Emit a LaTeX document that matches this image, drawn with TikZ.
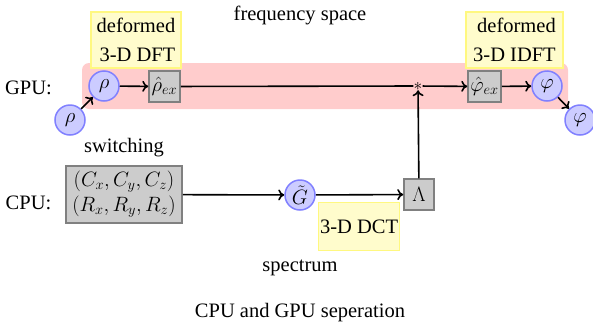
\documentclass[tikz,border=0pt]{standalone}
\usepackage{fontspec}
\setmainfont{Liberation Serif}
\usetikzlibrary{arrows.meta}
\begin{document}
\begin{tikzpicture}[x=1pt,y=-1pt,
  font=\fontsize{20.5}{29}\selectfont,
  every node/.style={inner sep=1pt},
  ball/.style={circle, fill=blue!20, draw=blue!50, line width=1.5pt, minimum size=30pt, inner sep=0pt},
  gbox/.style={rectangle, fill=gray!40, draw=gray, line width=1.5pt, inner sep=1pt},
  ybox/.style={rectangle, fill=yellow!20, draw=yellow!50, line width=1.3pt, align=right, inner sep=1pt},
  conn/.style={line width=1.6pt},
  arr/.style={conn, -{To[length=6pt,width=11pt]}},
  lbl/.style={inner sep=0pt}]
\useasboundingbox (0,0) rectangle (593,327);
% GPU band
\node[fill=red!20, rounded corners=7pt, minimum width=486pt, minimum height=46pt, inner sep=0pt] (band) at (325,86) {};
% yellow boxes
\node[ybox, minimum width=90pt, minimum height=56pt] (dft) at (136,40) {deformed\\3-D DFT};
\node[ybox, minimum width=97pt, minimum height=56pt] (idft) at (514.5,40) {deformed\\3-D IDFT};
\node[ybox, minimum width=81pt, minimum height=48pt, align=left, anchor=north west] (dct) at (318,202) {3-D DCT};
% labels
\node[lbl] (freq) at (300,15) {frequency space};
\node[lbl] (gpu) at (28.5,88) {GPU:};
\node[lbl] (cpu) at (28.5,203) {CPU:};
\node[lbl] (sw) at (124,148) {switching};
\node[lbl] (spec) at (300,268) {spectrum};
\node[lbl] (cap) at (300,313) {CPU and GPU seperation};
% GPU nodes
\node[ball] (rho0) at (70,120) {$\rho$};
\node[ball] (rho) at (104,86) {$\rho$};
\node[gbox, minimum width=31pt, minimum height=31pt] (rhoex) at (164.5,86.5) {$\hat{\rho}_{ex}$};
\node[inner sep=0pt, font=\fontsize{19}{19}\selectfont] (star) at (418,86) {$*$};
\node[gbox, minimum width=33pt, minimum height=31pt] (phiex) at (484.5,86.5) {$\hat{\varphi}_{ex}$};
\node[ball] (phi) at (547,86) {$\varphi$};
\node[ball] (phi2) at (580,120) {$\varphi$};
% CPU nodes
\node[gbox, minimum width=116pt, minimum height=57pt, align=center, font=\fontsize{20.5}{25}\selectfont] (swbox) at (124,194.5) {$(C_x,C_y,C_z)$\\$(R_x,R_y,R_z)$};
\node[ball] (G) at (300,195) {$\tilde{G}$};
\node[gbox, minimum width=30pt, minimum height=31pt] (lam) at (419,194.5) {$\Lambda$};
% connectors
\draw[arr] (rho0) -- (rho);
\draw[arr] (rho) -- (rhoex);
\draw[conn] (rhoex) -- (star);
\draw[arr] (star) -- (phiex);
\draw[arr] (phiex) -- (phi);
\draw[arr] (phi) -- (phi2);
\draw[arr] (swbox) -- (G);
\draw[arr] (G) -- (lam);
\draw[arr] (lam) -- (star);
\end{tikzpicture}
\end{document}
